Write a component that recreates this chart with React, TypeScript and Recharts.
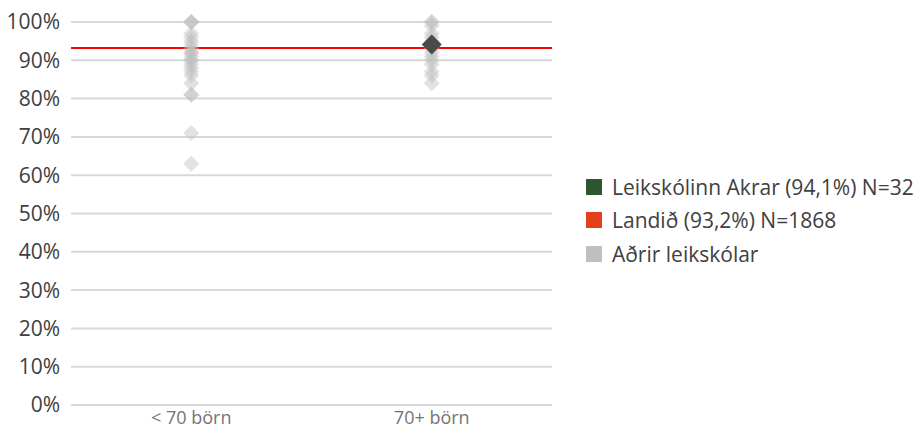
import React from 'react';
import {
  ScatterChart,
  Scatter,
  XAxis,
  YAxis,
  CartesianGrid,
  ReferenceLine,
  Legend,
} from 'recharts';

const categories = ['< 70 börn', '70+ börn'];
const smallSchools = [100, 100, 100, 97, 96, 95, 94, 93, 92, 92, 91, 90, 90, 89, 88, 87, 86, 84, 81, 81, 71, 63];
const largeSchools = [100, 100, 99, 97, 96, 95, 93, 92, 91, 90, 89, 87, 86, 84];
const akrarCategory = '70+ börn';
const akrarValue = 94.1;
const nationalValue = 93.2;
const yTicks = [0, 10, 20, 30, 40, 50, 60, 70, 80, 90, 100];
const legendLabels = ['Leikskólinn Akrar (94,1%) N=32', 'Landið (93,2%) N=1868', 'Aðrir leikskólar'];
const legendColors = ['#2e5430', '#e2401c', '#bfbfbf'];

const catX = (c: string) => categories.indexOf(c) + 0.5;
const othersData = [
  ...smallSchools.map((v) => ({ x: catX(categories[0]), y: v })),
  ...largeSchools.map((v) => ({ x: catX(categories[1]), y: v })),
];
const akrarData = [{ x: catX(akrarCategory), y: akrarValue }];

const FONT = '"Open Sans", sans-serif';

const makeDiamond = (r: number, fill: string, opacity: number) => (props: any) => {
  const { cx, cy } = props;
  if (cx == null || cy == null) return <g />;
  return (
    <polygon
      points={`${cx},${cy - r} ${cx + r},${cy} ${cx},${cy + r} ${cx - r},${cy}`}
      fill={fill}
      fillOpacity={opacity}
    />
  );
};

const LegendContent = () => (
  <div style={{ fontFamily: FONT, fontSize: 21, color: '#404040' }}>
    {legendLabels.map((label, i) => (
      <div key={label} style={{ display: 'flex', alignItems: 'center', height: 33.5, whiteSpace: 'nowrap' }}>
        <span style={{ display: 'inline-block', width: 16, height: 16, background: legendColors[i], marginRight: 10 }} />
        <span>{label}</span>
      </div>
    ))}
  </div>
);

export default function App() {
  return (
    <div style={{ width: 917, height: 432 }}>
      <style>{`body{margin:0}`}</style>
      <ScatterChart width={917} height={432} margin={{ top: 22, right: 365, bottom: 0, left: 0 }}>
        <CartesianGrid horizontal vertical={false} stroke="#d9d9d9" strokeWidth={2} />
        <XAxis
          type="number"
          dataKey="x"
          domain={[0, 2]}
          ticks={categories.map((c) => catX(c))}
          tickFormatter={(v: number) => categories[Math.floor(v)]}
          axisLine={false}
          tickLine={false}
          height={27}
          tickMargin={0}
          tick={{ fontFamily: FONT, fontSize: 18, fill: '#757575' }}
        />
        <YAxis
          type="number"
          dataKey="y"
          domain={[0, 100]}
          ticks={yTicks}
          tickFormatter={(v: number) => `${v}%`}
          axisLine={false}
          tickLine={false}
          width={71}
          tickMargin={5}
          tick={{ fontFamily: FONT, fontSize: 21, fill: '#404040' }}
        />
        <ReferenceLine y={nationalValue} stroke="#ff0000" strokeWidth={2} />
        <Scatter data={othersData} shape={makeDiamond(8, '#bfbfbf', 0.45)} isAnimationActive={false} />
        <Scatter data={akrarData} shape={makeDiamond(10, '#4a4a4a', 1)} isAnimationActive={false} />
        <Legend
          layout="vertical"
          align="center"
          verticalAlign="middle"
          content={() => <LegendContent />}
          wrapperStyle={{ left: 586, top: 170, width: 331, height: 101 }}
        />
      </ScatterChart>
    </div>
  );
}
